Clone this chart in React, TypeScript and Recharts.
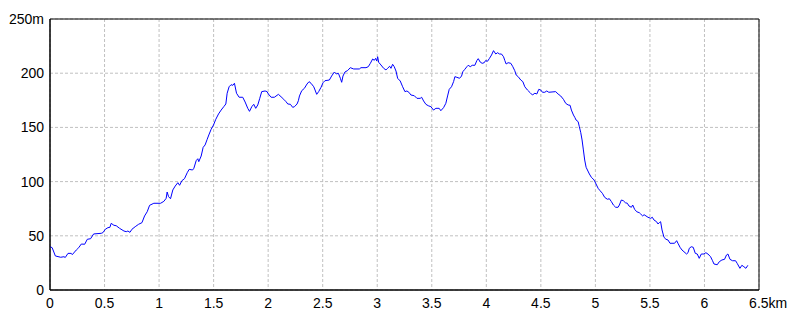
import React from "react";
import { LineChart, Line, XAxis, YAxis, CartesianGrid, ReferenceArea } from "recharts";

const distanceKm = [
  0, 0.02, 0.049, 0.098, 0.128, 0.14, 0.165, 0.195, 0.204, 0.241, 0.263, 0.287, 0.318, 0.342, 0.372, 0.4, 0.47, 0.485,
  0.507, 0.531, 0.549, 0.561, 0.586, 0.607, 0.638, 0.678, 0.699, 0.714, 0.733, 0.751, 0.781, 0.812, 0.843, 0.867, 0.891,
  0.913, 0.952, 1.014, 1.044, 1.065, 1.074, 1.087, 1.105, 1.126, 1.148, 1.172, 1.188, 1.209, 1.233, 1.258, 1.276, 1.307,
  1.319, 1.34, 1.355, 1.364, 1.386, 1.404, 1.422, 1.441, 1.456, 1.477, 1.499, 1.52, 1.545, 1.569, 1.593, 1.612, 1.624,
  1.642, 1.66, 1.676, 1.691, 1.71, 1.734, 1.767, 1.789, 1.813, 1.829, 1.85, 1.868, 1.886, 1.905, 1.923, 1.941, 1.972,
  1.99, 2.002, 2.027, 2.057, 2.094, 2.118, 2.143, 2.164, 2.18, 2.204, 2.225, 2.241, 2.265, 2.277, 2.287, 2.308, 2.332,
  2.356, 2.375, 2.393, 2.418, 2.43, 2.445, 2.463, 2.485, 2.503, 2.521, 2.561, 2.582, 2.607, 2.625, 2.644, 2.662, 2.674,
  2.686, 2.704, 2.729, 2.753, 2.784, 2.836, 2.851, 2.897, 2.918, 2.937, 2.958, 2.973, 2.985, 2.995, 3.004, 3.013, 3.034,
  3.059, 3.08, 3.095, 3.114, 3.126, 3.141, 3.156, 3.172, 3.187, 3.211, 3.233, 3.254, 3.272, 3.29, 3.309, 3.34, 3.364,
  3.394, 3.407, 3.425, 3.446, 3.468, 3.492, 3.516, 3.538, 3.568, 3.583, 3.608, 3.629, 3.645, 3.66, 3.681, 3.7, 3.712,
  3.73, 3.755, 3.773, 3.785, 3.803, 3.822, 3.834, 3.853, 3.871, 3.895, 3.913, 3.926, 3.944, 3.962, 3.981, 3.993, 4.011,
  4.029, 4.048, 4.066, 4.087, 4.103, 4.121, 4.139, 4.158, 4.17, 4.182, 4.2, 4.225, 4.243, 4.261, 4.274, 4.292, 4.316,
  4.335, 4.353, 4.377, 4.402, 4.423, 4.445, 4.463, 4.481, 4.499, 4.515, 4.536, 4.554, 4.573, 4.636, 4.658, 4.682, 4.707,
  4.728, 4.75, 4.768, 4.78, 4.799, 4.811, 4.823, 4.842, 4.853, 4.866, 4.878, 4.89, 4.902, 4.915, 4.927, 4.945, 4.963,
  4.988, 5.006, 5.025, 5.043, 5.064, 5.085, 5.11, 5.128, 5.147, 5.165, 5.186, 5.208, 5.22, 5.238, 5.256, 5.275, 5.293,
  5.308, 5.33, 5.342, 5.36, 5.379, 5.403, 5.415, 5.434, 5.446, 5.464, 5.482, 5.507, 5.522, 5.537, 5.561, 5.574, 5.586,
  5.598, 5.611, 5.629, 5.647, 5.666, 5.684, 5.726, 5.745, 5.757, 5.776, 5.794, 5.812, 5.836, 5.849, 5.861, 5.879, 5.897,
  5.916, 5.934, 5.952, 5.971, 5.995, 6.013, 6.032, 6.056, 6.074, 6.087, 6.117, 6.136, 6.16, 6.184, 6.202, 6.215, 6.234,
  6.257, 6.285, 6.3, 6.325, 6.343, 6.361, 6.38, 6.398,
];

const elevationM = [
  40, 39, 31.4, 30.2, 30.7, 30, 33.8, 33.8, 32.6, 36.9, 39, 42.4, 42.2, 46.8, 47.3, 51.7, 52.3, 52.9,
  56, 57.5, 57.8, 61.5, 59.7, 59.3, 56.9, 54.4, 53.8, 54.4, 53.2, 56, 58.4, 60.6, 62.1, 68.3, 72.2,
  78.1, 80, 80, 81.8, 84.6, 90.4, 86.1, 84.2, 92.3, 95.9, 99, 96.6, 100.8, 102.7, 108.2, 111.3, 110.7,
  112.3, 119.3, 121.1, 118.4, 123.6, 131.6, 133.8, 139, 143, 148.2, 152.2, 157.5, 162.4, 166, 169.1, 171.6, 181.5,
  187.5, 189.4, 188.8, 190.7, 181.5, 177.8, 177.8, 173.4, 167.6, 164.8, 169.1, 171.3, 167.6, 170.7, 176.8, 183, 183.6,
  183, 180.8, 177.8, 177.8, 180.5, 178.3, 175.9, 173.7, 171.6, 171.3, 168.5, 169.1, 171.6, 174.6, 179, 183.9, 186,
  190, 192.2, 190.7, 187.5, 184.5, 180.5, 183, 187, 191.2, 193.1, 193.7, 197.4, 201.1, 199.3, 199.9, 195.3, 191.6,
  197.4, 201.1, 202.5, 205.1, 203.9, 203.9, 205.1, 205.1, 206, 209.1, 213.1, 211.9, 213.7, 211.3, 215.2, 210.1, 207.6,
  204.5, 203, 204.5, 206.4, 204.5, 208.2, 206, 202, 195.3, 192.8, 187.5, 183, 183.6, 182.4, 179.9, 179.2, 176.8,
  176.8, 177.8, 174.4, 171.3, 170, 169.1, 166, 167.6, 167.6, 165.4, 168.2, 172.2, 179, 185.1, 187.5, 192.2, 196.8,
  196.2, 195.3, 197.4, 201.4, 203.6, 206, 207.3, 206, 207.3, 207.3, 211.6, 213.4, 210.3, 209.1, 209.7, 211.6, 211,
  213.7, 216.8, 220.8, 217.7, 218.9, 217.7, 217.7, 215.2, 211.6, 208.5, 209.7, 209.1, 206, 202.3, 198.3, 196.8, 193.7,
  192.2, 187.5, 184.5, 182, 179.9, 181.5, 180.8, 185.1, 184.5, 182.4, 182.4, 183.6, 182.4, 183, 180.8, 179, 175.9,
  172.2, 170.7, 170.4, 166, 161.4, 159.3, 156.8, 155.3, 150.6, 145.1, 138.4, 129.2, 119.9, 113.2, 110.7, 107, 104,
  101.5, 97.8, 93.8, 91.6, 89.2, 85.5, 83.7, 84.2, 81.5, 78.4, 76.3, 76.3, 78.4, 83, 82.4, 80.5, 80,
  77.5, 76.3, 78.4, 74.4, 72.2, 71.3, 70.1, 68.3, 69.5, 68.3, 67.1, 66.1, 67.1, 64.6, 63, 60.9, 62.1,
  63, 55.4, 48.6, 46.8, 46.1, 43.1, 43.1, 45.5, 43.1, 39.4, 36.9, 35.3, 33.2, 34.4, 38.5, 39.9, 39.4,
  33.8, 33.2, 29.2, 33.2, 33.2, 34.4, 33.2, 30.7, 27, 24, 23.3, 26.1, 27.7, 28.3, 32.3, 33.2, 28.3,
  27, 27, 24.6, 20, 22.8, 21.5, 20, 22.8,
];

const xTicks = [0, 0.5, 1, 1.5, 2, 2.5, 3, 3.5, 4, 4.5, 5, 5.5, 6, 6.5];
const yTicks = [0, 50, 100, 150, 200, 250];
const xUnit = "km";
const yUnit = "m";

const data = distanceKm.map((d, i) => ({ d, e: elevationM[i] }));

const FONT = "'Liberation Sans', Arial, sans-serif";

const XTick = (props: any) => {
  const { x, y, payload } = props;
  const v = payload.value;
  const isLast = v === xTicks[xTicks.length - 1];
  const label = String(v);
  if (isLast) {
    return (
      <text x={x} y={y} dy="0.71em" fill="#000" fontSize={14} fontFamily={FONT} textAnchor="start">
        <tspan dx={-label.length * 3.3}>{label + xUnit}</tspan>
      </text>
    );
  }
  return (
    <text x={x} y={y} dy="0.71em" fill="#000" fontSize={14} fontFamily={FONT} textAnchor="middle">
      {label}
    </text>
  );
};

export default function App() {
  return (
    <div style={{ position: "absolute", left: 0, top: 0, width: 800, height: 320, background: "#fff" }}>
      <LineChart width={800} height={320} data={data} margin={{ top: 19, right: 41, bottom: 0, left: 0 }}>
        <CartesianGrid stroke="#c0c0c0" strokeDasharray="3 2" />
        <XAxis
          dataKey="d"
          type="number"
          domain={[0, 6.5]}
          ticks={xTicks}
          height={30}
          tickLine={false}
          axisLine={{ stroke: "#000" }}
          tick={<XTick />}
          interval={0}
          allowDataOverflow
        />
        <YAxis
          type="number"
          domain={[0, 250]}
          ticks={yTicks}
          width={50}
          tickLine={false}
          tickSize={6}
          tickMargin={0}
          axisLine={{ stroke: "#000" }}
          tick={{ fill: "#000", fontSize: 14, fontFamily: FONT }}
          tickFormatter={(v: number) => (v === yTicks[yTicks.length - 1] ? v + yUnit : String(v))}
          interval={0}
        />
        <ReferenceArea x1={0} x2={6.5} y1={0} y2={250} fill="none" stroke="#000" strokeWidth={1} />
        <Line
          dataKey="e"
          type="linear"
          stroke="#0000ff"
          strokeWidth={1}
          dot={false}
          activeDot={false}
          isAnimationActive={false}
        />
      </LineChart>
    </div>
  );
}
